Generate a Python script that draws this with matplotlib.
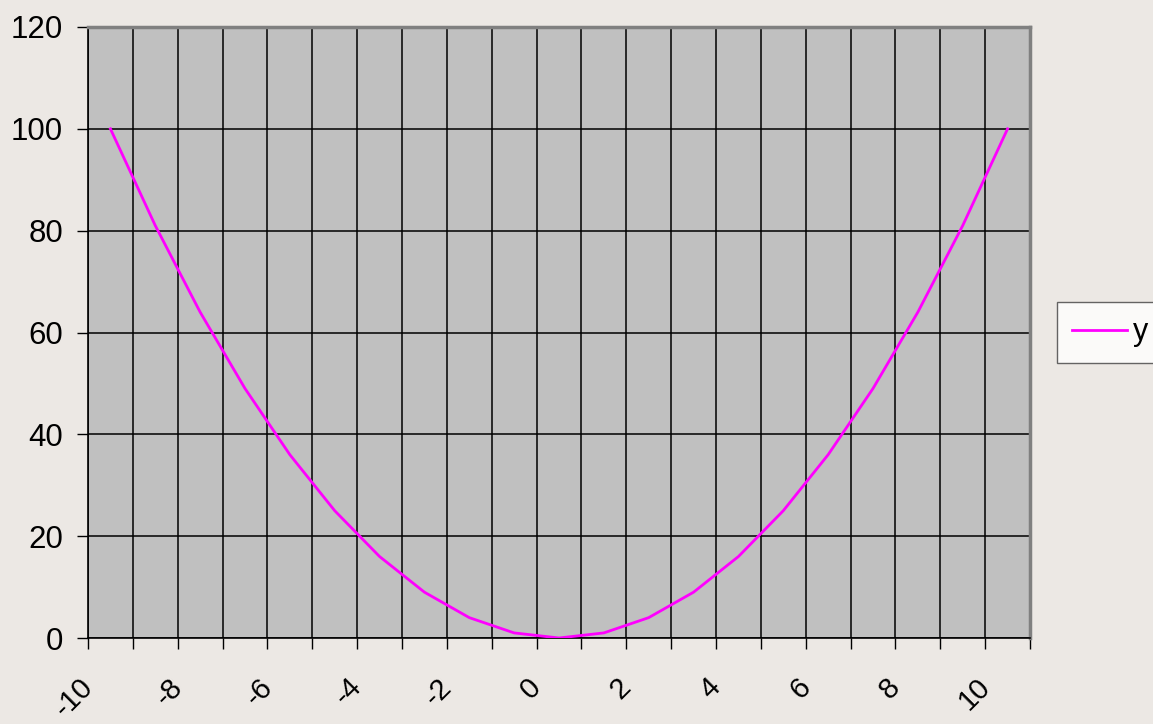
import numpy as np
import matplotlib.pyplot as plt
import matplotlib.transforms as mtransforms

x_labels = ['-10', '-9', '-8', '-7', '-6', '-5', '-4', '-3', '-2', '-1', '0',
            '1', '2', '3', '4', '5', '6', '7', '8', '9', '10']
y_vals = [100, 81, 64, 49, 36, 25, 16, 9, 4, 1, 0, 1, 4, 9, 16, 25, 36, 49, 64, 81, 100]
y_ticks = [0, 20, 40, 60, 80, 100, 120]

plt.rcParams['font.family'] = ['Liberation Sans', 'DejaVu Sans']

fig = plt.figure(figsize=(11.53, 7.24), dpi=100)
fig.patch.set_facecolor('#ECE8E4')
ax = fig.add_axes([88/1153, 1-638/724, (1030-88)/1153, (638-27)/724])
ax.set_facecolor('#C0C0C0')

pos = np.arange(len(x_labels))
ax.plot(pos, y_vals, color='#FF00FF', lw=2.0, label='y', zorder=3)

ax.set_xlim(-0.5, len(x_labels) - 0.5)
ax.set_ylim(0, 120)

# category boundaries -> gridlines and tick marks
ax.set_xticks(np.arange(-0.5, len(x_labels), 1.0))
ax.set_xticklabels([])
ax.set_xticks(pos[::2], x_labels[::2], minor=True)
ax.set_yticks(y_ticks)
ax.grid(True, which='major', color='black', lw=1.1, zorder=1)
ax.set_axisbelow(True)

ax.tick_params(axis='x', which='major', direction='out', length=7.7, width=1, color='black')
ax.tick_params(axis='x', which='minor', length=0, pad=25, labelsize=21)
ax.tick_params(axis='y', direction='out', length=8, width=1, pad=10, labelsize=22.5)

offset = mtransforms.ScaledTranslation(-12/100, 0, fig.dpi_scale_trans)
for lab in ax.get_xticklabels(minor=True):
    lab.set_rotation(45)
    lab.set_ha('right')
    lab.set_va('top')
    lab.set_transform(lab.get_transform() + offset)

for side in ['top', 'right']:
    ax.spines[side].set_color('#808080')
    ax.spines[side].set_linewidth(2.5)
for side in ['left', 'bottom']:
    ax.spines[side].set_color('black')
    ax.spines[side].set_linewidth(1.2)

leg = fig.legend(loc='upper left', bbox_to_anchor=(1057/1153, 1-302/724),
                 fontsize=22, frameon=True, fancybox=False, handlelength=1.8,
                 handletextpad=0.2, borderpad=0.5, borderaxespad=0)
leg.get_frame().set_edgecolor('#404040')
leg.get_frame().set_facecolor('white')
leg.get_frame().set_linewidth(1.0)

fig.savefig('out.png', dpi=100, facecolor=fig.get_facecolor())
